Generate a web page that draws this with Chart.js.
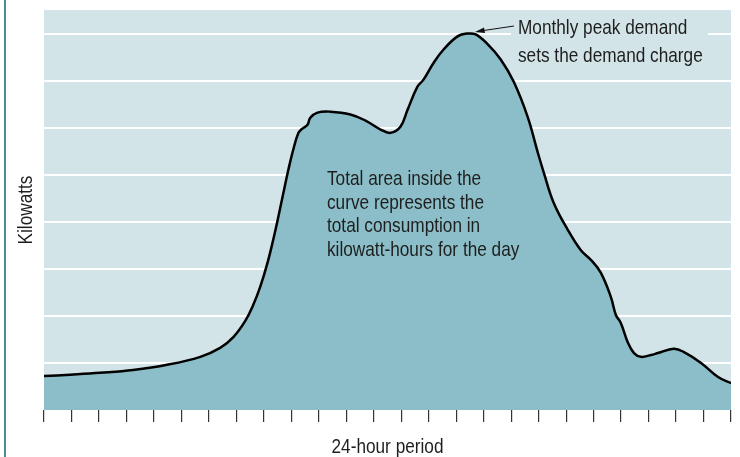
<!DOCTYPE html>
<html lang="en">
<head>
    <meta charset="UTF-8">
    <title>Daily load curve</title>
    <script src="https://cdn.jsdelivr.net/npm/chart.js"></script>
    <style>
        body { margin: 0; background: #fff; }
    </style>
</head>
<body>
    <canvas id="loadChart" width="740" height="457"></canvas>

    <script>
        // Data (x in tick intervals, y in gridline units)
        const hours = [0, 0.95, 2.04, 3.24, 4.48, 5.69, 6.41, 6.89, 7.33, 7.62, 7.87, 8.13, 8.35, 8.53,
            8.71, 8.89, 9.07, 9.26, 9.4, 9.59, 9.69, 9.95, 10.42, 11.15, 11.7, 12.25, 12.61, 12.97,
            13.23, 13.59, 13.81, 14.18, 14.54, 15.05, 15.42, 15.71, 16.15, 16.62, 17.09, 17.6, 17.97,
            18.19, 18.55, 19.06, 19.53, 19.9, 20.26, 20.63, 20.81, 20.99, 21.25, 21.47, 21.72, 22.09,
            22.34, 22.92, 23.29, 23.91, 24.53, 25];
        const kilowatts = [0.72, 0.75, 0.79, 0.85, 0.96, 1.13, 1.32, 1.55, 1.9, 2.24, 2.62, 3.12, 3.64, 4.11,
            4.61, 5.1, 5.53, 5.89, 5.98, 6.06, 6.21, 6.32, 6.34, 6.28, 6.15, 5.96, 5.89, 6.02,
            6.38, 6.87, 7.02, 7.38, 7.66, 7.94, 8.0, 7.98, 7.77, 7.45, 6.98, 6.23, 5.47,
            5.04, 4.4, 3.83, 3.4, 3.19, 2.92, 2.4, 2.02, 1.85, 1.43, 1.21, 1.13, 1.17,
            1.21, 1.3, 1.23, 1.0, 0.7, 0.57];

        const xTitle = '24-hour period';
        const yTitle = 'Kilowatts';
        const peakNote = ['Monthly peak demand', 'sets the demand charge'];
        const areaNote = ['Total area inside the', 'curve represents the', 'total consumption in', 'kilowatt-hours for the day'];

        const points = hours.map((h, i) => ({ x: h, y: kilowatts[i] }));

        const FONT = '21px "Liberation Sans", Arial, sans-serif';
        const NARROW = 0.82; // no condensed face installed, squeeze Liberation Sans instead
        const PLOT_BG = '#d3e4e8';
        const INK = '#1e1e1e';

        function narrowText(ctx, text, x, y, align, rot) {
            ctx.save();
            ctx.translate(x, y);
            if (rot) ctx.rotate(rot);
            ctx.scale(NARROW, 1);
            ctx.textAlign = align;
            ctx.textBaseline = 'alphabetic';
            ctx.fillText(text, 0, 0);
            ctx.restore();
        }

        // фон области графика и подписи
        const decor = {
            id: 'decor',
            beforeDraw(chart) {
                const { ctx, chartArea: a } = chart;
                ctx.save();
                ctx.fillStyle = PLOT_BG;
                ctx.fillRect(a.left, a.top, a.right - a.left, a.bottom - a.top);
                ctx.restore();
            },
            afterDraw(chart) {
                const { ctx, chartArea: a } = chart;
                ctx.save();
                // left rule
                ctx.fillStyle = '#4e8c93';
                ctx.fillRect(4, 0, 2, 457);

                // box behind peak note
                ctx.fillStyle = PLOT_BG;
                ctx.fillRect(511, 14, 197, 58);

                ctx.fillStyle = INK;
                ctx.font = FONT;
                narrowText(ctx, peakNote[0], 518, 34, 'left');
                narrowText(ctx, peakNote[1], 518, 62, 'left');
                areaNote.forEach((t, i) => narrowText(ctx, t, 327, 185 + i * 23.7, 'left'));

                // axis titles
                narrowText(ctx, xTitle, (a.left + a.right) / 2, 453, 'center');
                narrowText(ctx, yTitle, 32, (a.top + a.bottom) / 2, 'center', -Math.PI / 2);

                // arrow to the peak
                ctx.strokeStyle = '#111';
                ctx.lineWidth = 1;
                ctx.beginPath();
                ctx.moveTo(514, 26);
                ctx.lineTo(477, 31.5);
                ctx.stroke();
                ctx.fillStyle = '#111';
                ctx.beginPath();
                ctx.moveTo(475, 32);
                ctx.lineTo(484, 27.5);
                ctx.lineTo(485, 33);
                ctx.closePath();
                ctx.fill();
                ctx.restore();
            }
        };

        const chart = new Chart(document.getElementById('loadChart'), {
            type: 'line',
            data: {
                datasets: [{
                    data: points,
                    borderColor: '#000',
                    borderWidth: 2.5,
                    backgroundColor: '#8bbec8',
                    fill: 'origin',
                    pointRadius: 0,
                    tension: 0.4
                }]
            },
            options: {
                responsive: false,
                devicePixelRatio: 1,
                animation: false,
                layout: { padding: { top: 10, right: 9, left: 0, bottom: 0 } },
                plugins: { legend: { display: false }, tooltip: { enabled: false } },
                scales: {
                    x: {
                        type: 'linear',
                        min: 0,
                        max: 25,
                        ticks: { display: false, stepSize: 1 },
                        border: { display: false },
                        grid: {
                            drawOnChartArea: false,
                            drawTicks: true,
                            tickLength: 12,
                            color: '#333',
                            lineWidth: 1.2
                        },
                        afterFit: s => { s.height = 47; }
                    },
                    y: {
                        min: 0,
                        max: 8.5,
                        ticks: { display: false, stepSize: 1 },
                        border: { display: false },
                        grid: {
                            drawTicks: false,
                            lineWidth: 2,
                            color: c => (c.tick && c.tick.value > 0 && Number.isInteger(c.tick.value)) ? '#ffffff' : 'rgba(0,0,0,0)'
                        },
                        afterFit: s => { s.width = 44; }
                    }
                }
            },
            plugins: [decor]
        });
    </script>
</body>
</html>
